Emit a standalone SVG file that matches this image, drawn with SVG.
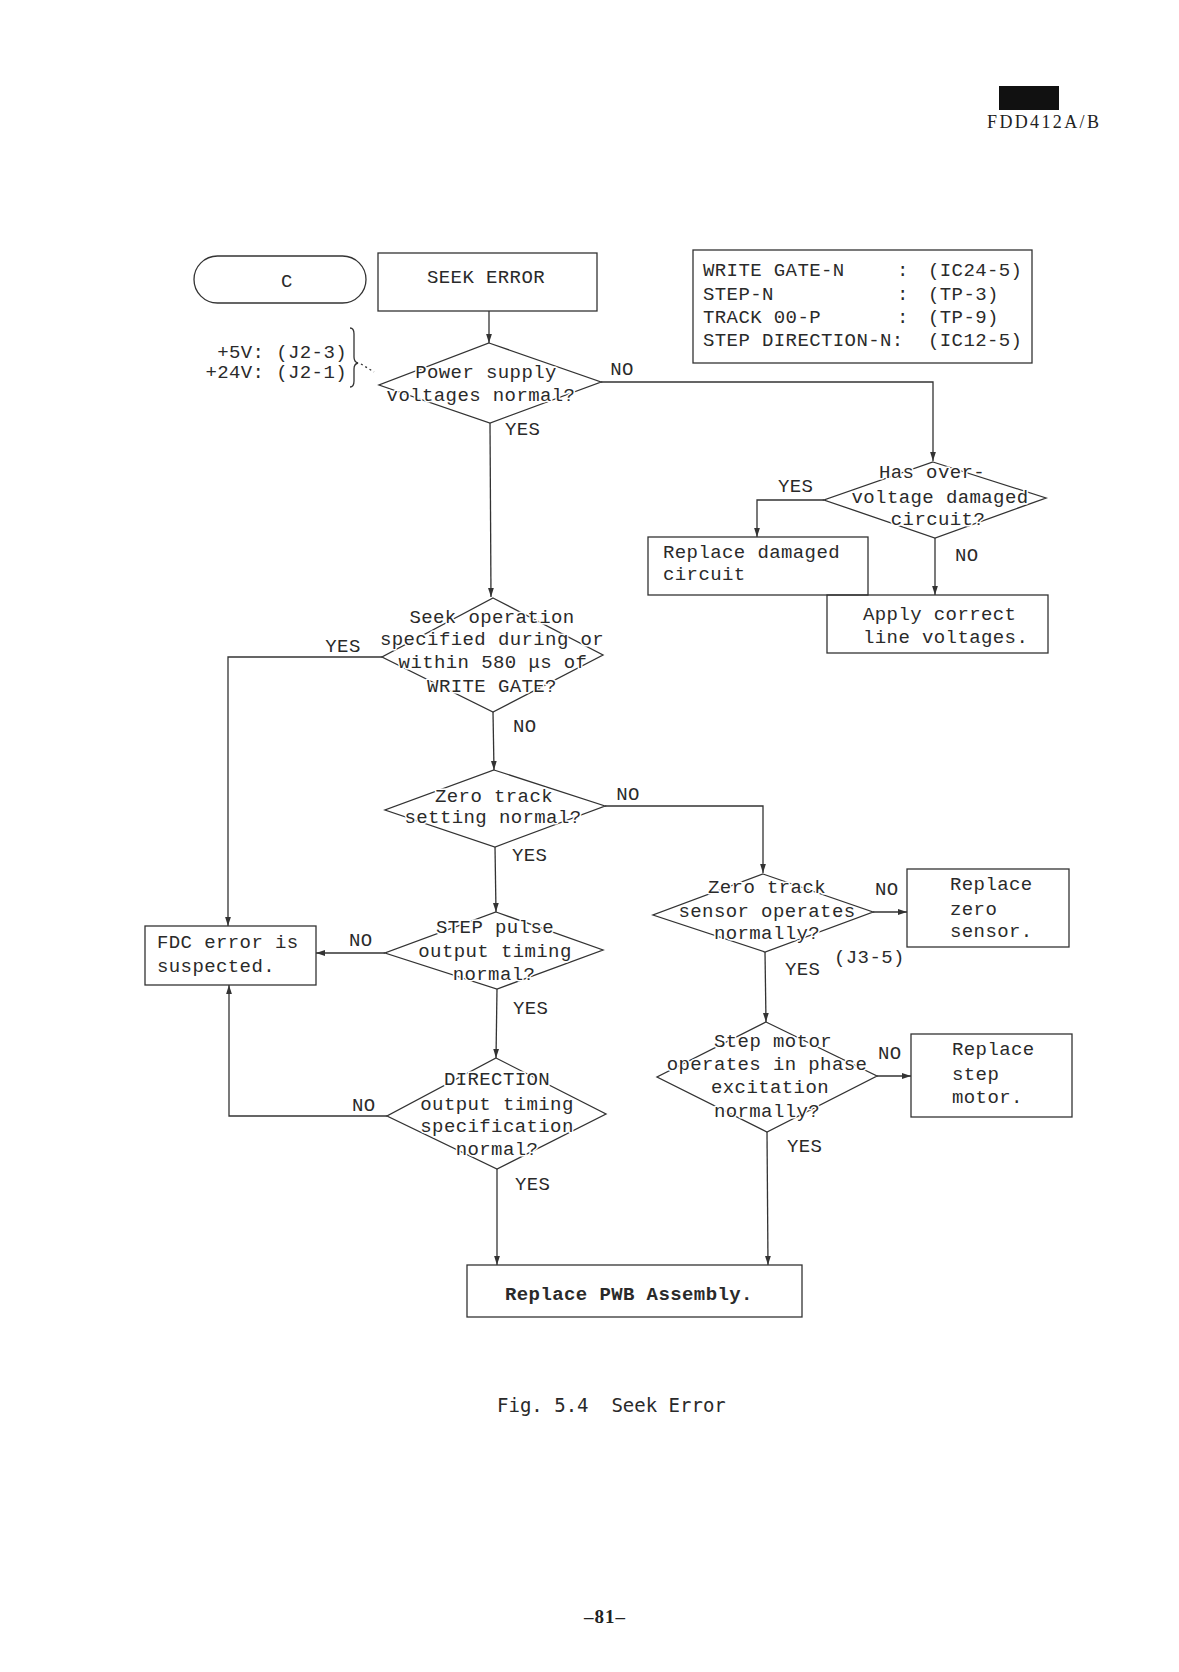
<svg xmlns="http://www.w3.org/2000/svg" width="1179" height="1672" viewBox="0 0 1179 1672">
<style>
.t{font-family:"Liberation Mono","DejaVu Sans Mono",monospace;font-size:19px;fill:#2a2a2a;letter-spacing:0.4px}
.m{text-anchor:middle}
.h{paint-order:stroke;stroke:#fff;stroke-width:3px;stroke-linejoin:round}
.s{fill:none;stroke:#333;stroke-width:1.3}
.c path{fill:none;stroke:#333;stroke-width:1.3;marker-end:url(#ah)}
.b{font-weight:bold}
</style>
<defs>
<marker id="ah" viewBox="0 0 10 10" refX="10" refY="5" markerWidth="9" markerHeight="9" markerUnits="userSpaceOnUse" orient="auto"><path d="M0,1.8 L10,5 L0,8.2 z" fill="#333"/></marker>
</defs>
<rect width="1179" height="1672" fill="#fff"/>

<g id="header">
<rect x="999" y="86" width="60" height="24" fill="#111"/>
<text x="987" y="128" textLength="112" lengthAdjust="spacing" style="font-family:'Liberation Serif',serif;font-size:18px;fill:#222">FDD412A/B</text>
</g>

<g id="connectors" class="c">
<path d="M489,311 L489,343"/>
<path d="M601,382 L933,382 L933,461"/>
<path d="M490,423 L491,597"/>
<path d="M824,500 L757,500 L757,537"/>
<path d="M935,538 L935,595"/>
<path d="M382,657 L228,657 L228,926"/>
<path d="M493,712 L494,770"/>
<path d="M605,806 L763,806 L763,873"/>
<path d="M495,847 L496,912"/>
<path d="M385,953 L316,953"/>
<path d="M497,989 L496,1058"/>
<path d="M387,1116 L229,1116 L229,985"/>
<path d="M497,1169 L497,1265"/>
<path d="M873,912 L907,912"/>
<path d="M765,952 L766,1022"/>
<path d="M877,1076 L911,1076"/>
<path d="M767,1132 L768,1265"/>
</g>

<g id="terminal-c">
<rect class="s" x="194" y="256" width="172" height="47" rx="23.5"/>
<text class="t m" x="287" y="287">C</text>
</g>

<g id="seek-error">
<rect class="s" x="378" y="253" width="219" height="58"/>
<text class="t m" x="486" y="283">SEEK ERROR</text>
</g>

<g id="legend">
<rect class="s" x="693" y="250" width="339" height="113"/>
<text class="t" x="703" y="276">WRITE GATE-N</text>
<text class="t" x="897" y="276">:</text>
<text class="t" x="928" y="276">(IC24-5)</text>
<text class="t" x="703" y="300">STEP-N</text>
<text class="t" x="897" y="300">:</text>
<text class="t" x="928" y="300">(TP-3)</text>
<text class="t" x="703" y="323">TRACK 00-P</text>
<text class="t" x="897" y="323">:</text>
<text class="t" x="928" y="323">(TP-9)</text>
<text class="t" x="703" y="346">STEP DIRECTION-N:</text>
<text class="t" x="928" y="346">(IC12-5)</text>
</g>

<g id="voltage-note">
<text class="t" x="347" y="358" text-anchor="end">+5V: (J2-3)</text>
<text class="t" x="347" y="378" text-anchor="end">+24V: (J2-1)</text>
<path class="s" d="M350,328 Q354,328 354,334 L354,357 Q354,362 358,363 Q354,364 354,369 L354,381 Q354,387 350,387"/>
<path class="s" d="M361,364 L374,372" stroke-dasharray="2,3"/>
</g>

<g id="power-supply">
<polygon class="s" points="489,343 601,382 490,423 379,385"/>
<text class="t m h" x="486" y="378">Power supply</text>
<text class="t m h" x="481" y="401">voltages normal?</text>
</g>

<g id="over-voltage">
<polygon class="s" points="933,462 1046,498 935,538 824,500"/>
<text class="t m h" x="932" y="478">Has over-</text>
<text class="t m h" x="940" y="503">voltage damaged</text>
<text class="t m h" x="938" y="525">circuit?</text>
</g>

<g id="replace-damaged">
<rect class="s" x="648" y="537" width="220" height="58"/>
<text class="t" x="663" y="558">Replace damaged</text>
<text class="t" x="663" y="580">circuit</text>
</g>

<g id="apply-voltages">
<rect class="s" x="827" y="595" width="221" height="58"/>
<text class="t" x="863" y="620">Apply correct</text>
<text class="t" x="863" y="643">line voltages.</text>
</g>

<g id="seek-operation">
<polygon class="s" points="493,598 603,655 493,712 382,657"/>
<text class="t m h" x="492" y="623">Seek operation</text>
<text class="t m h" x="492" y="645">specified during or</text>
<text class="t m h" x="493" y="668">within 580 μs of</text>
<text class="t m h" x="492" y="692">WRITE GATE?</text>
</g>

<g id="zero-track-setting">
<polygon class="s" points="494,770 605,806 495,847 385,810"/>
<text class="t m h" x="494" y="802">Zero track</text>
<text class="t m h" x="493" y="823">setting normal?</text>
</g>

<g id="step-pulse">
<polygon class="s" points="496,912 603,950 497,989 385,953"/>
<text class="t m h" x="495" y="933">STEP pulse</text>
<text class="t m h" x="495" y="957">output timing</text>
<text class="t m h" x="494" y="980">normal?</text>
</g>

<g id="direction">
<polygon class="s" points="496,1058 606,1114 497,1169 387,1116"/>
<text class="t m h" x="497" y="1085">DIRECTION</text>
<text class="t m h" x="497" y="1110">output timing</text>
<text class="t m h" x="497" y="1132">specification</text>
<text class="t m h" x="497" y="1155">normal?</text>
</g>

<g id="fdc-error">
<rect class="s" x="145" y="926" width="171" height="59"/>
<text class="t" x="157" y="948">FDC error is</text>
<text class="t" x="157" y="972">suspected.</text>
</g>

<g id="zero-sensor">
<polygon class="s" points="763,874 873,912 765,952 653,915"/>
<text class="t m h" x="767" y="893">Zero track</text>
<text class="t m h" x="767" y="917">sensor operates</text>
<text class="t m h" x="767" y="939">normally?</text>
</g>

<g id="replace-zero-sensor">
<rect class="s" x="907" y="869" width="162" height="78"/>
<text class="t" x="950" y="890">Replace</text>
<text class="t" x="950" y="915">zero</text>
<text class="t" x="950" y="937">sensor.</text>
</g>

<g id="step-motor">
<polygon class="s" points="766,1022 877,1076 767,1132 657,1077"/>
<text class="t m h" x="773" y="1047">Step motor</text>
<text class="t m h" x="767" y="1070">operates in phase</text>
<text class="t m h" x="770" y="1093">excitation</text>
<text class="t m h" x="767" y="1117">normally?</text>
</g>

<g id="replace-step-motor">
<rect class="s" x="911" y="1034" width="161" height="83"/>
<text class="t" x="952" y="1055">Replace</text>
<text class="t" x="952" y="1080">step</text>
<text class="t" x="952" y="1103">motor.</text>
</g>

<g id="replace-pwb">
<rect class="s" x="467" y="1265" width="335" height="52"/>
<text class="t b" x="505" y="1300">Replace PWB Assembly.</text>
</g>

<g id="labels">
<text class="t m" x="622" y="375">NO</text>
<text class="t" x="505" y="435">YES</text>
<text class="t" x="778" y="492">YES</text>
<text class="t" x="955" y="561">NO</text>
<text class="t m" x="343" y="652">YES</text>
<text class="t" x="513" y="732">NO</text>
<text class="t m" x="628" y="800">NO</text>
<text class="t" x="512" y="861">YES</text>
<text class="t" x="349" y="946">NO</text>
<text class="t" x="513" y="1014">YES</text>
<text class="t" x="352" y="1111">NO</text>
<text class="t" x="515" y="1190">YES</text>
<text class="t" x="875" y="895">NO</text>
<text class="t" x="785" y="975">YES</text>
<text class="t" x="834" y="963">(J3-5)</text>
<text class="t" x="878" y="1059">NO</text>
<text class="t" x="787" y="1152">YES</text>
</g>

<g id="caption">
<text x="497" y="1412" style="font-family:'DejaVu Sans Mono',monospace;font-size:19px;fill:#2a2a2a" xml:space="preserve">Fig. 5.4  Seek Error</text>
<text x="605" y="1623" text-anchor="middle" style="font-family:'Liberation Serif',serif;font-size:19px;font-weight:bold;fill:#222;letter-spacing:1px">–81–</text>
</g>
</svg>
